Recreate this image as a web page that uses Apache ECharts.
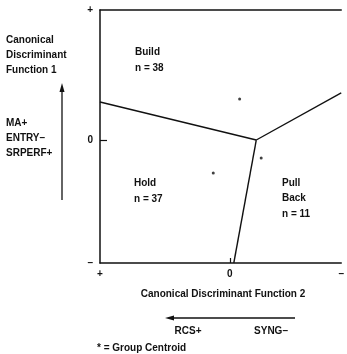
<!DOCTYPE html>
<html><head><meta charset="utf-8">
<script src="https://cdn.jsdelivr.net/npm/echarts@6/dist/echarts.min.js"></script>
<style>html,body{margin:0;padding:0;background:#fff}#c{width:347px;height:354px}</style>
</head><body><div id="c"></div>
<script>
// Axis extents (data units: x positive to the left, as in the reference)
const xRange = [-0.857, 1];
const yRange = [-0.946, 1];
const xTickValues = [1, 0, -0.857];
const xTickLabels = ['+', '0', '\u2013'];
const yTickValues = [1, 0, -0.946];
const yTickLabels = ['+', '0', '\u2013'];
// Territorial boundaries (two points each)
const boundaryBuildHold = [[1, 0.292], [-0.203, 0]];
const boundaryBuildPull = [[-0.203, 0], [-0.857, 0.362]];
const boundaryHoldPull = [[-0.203, 0], [-0.030, -0.946]];
// Group centroids
const centroidNames = ['Build', 'Hold', 'Pull Back'];
const centroids = [[-0.075, 0.315], [0.128, -0.254], [-0.241, -0.138]];

const chart = echarts.init(document.getElementById('c'));
const ink = '#111';
const font = 'Liberation Sans, Arial, sans-serif';
const txt = (x, y, t, align) => ({type:'text', left:null, x:x, y:y, style:{text:t, fill:ink, font:'bold 10px ' + font, textAlign:align||'left', textVerticalAlign:'middle'}});
const lineSeries = d => ({type:'line', data:d, symbol:'none', lineStyle:{color:ink, width:1.4}, silent:true, z:3});

chart.setOption({
  animation:false,
  grid:{left:100, top:10, right:0, bottom:91},
  xAxis:[{
    type:'value', inverse:true, min:xRange[0], max:xRange[1], position:'bottom',
    splitLine:{show:false},
    axisLine:{show:true, onZero:false, lineStyle:{color:ink, width:1.5}},
    axisTick:{show:true, inside:true, length:5, customValues:[0], lineStyle:{color:ink, width:1.2}},
    axisLabel:{show:true, customValues:xTickValues, margin:6, color:ink, fontFamily:font, fontWeight:'bold', fontSize:10,
      formatter:v => xTickLabels[xTickValues.indexOf(v)]}
  },{
    type:'value', inverse:true, min:xRange[0], max:xRange[1], position:'top',
    splitLine:{show:false}, axisTick:{show:false}, axisLabel:{show:false},
    axisLine:{show:true, onZero:false, lineStyle:{color:ink, width:1.5}}
  }],
  yAxis:{
    type:'value', min:yRange[0], max:yRange[1],
    splitLine:{show:false},
    axisLine:{show:true, onZero:false, lineStyle:{color:ink, width:1.5}},
    axisTick:{show:true, inside:true, length:7, customValues:[0], lineStyle:{color:ink, width:1.2}},
    axisLabel:{show:true, customValues:yTickValues, margin:7, color:ink, fontFamily:font, fontWeight:'bold', fontSize:10,
      formatter:v => yTickLabels[yTickValues.indexOf(v)]}
  },
  series:[
    lineSeries(boundaryBuildHold),
    lineSeries(boundaryBuildPull),
    lineSeries(boundaryHoldPull),
    {type:'scatter', data:centroids.map((c,i)=>({name:centroidNames[i], value:c})), symbol:'circle', symbolSize:3,
     itemStyle:{color:ink}, z:4}
  ],
  graphic:[
    txt(6, 40, 'Canonical'), txt(6, 55, 'Discriminant'), txt(6, 70, 'Function 1'),
    txt(6, 123, 'MA+'), txt(6, 138, 'ENTRY\u2013'), txt(6, 153, 'SRPERF+'),
    {type:'line', shape:{x1:62, y1:90, x2:62, y2:200}, style:{stroke:ink, lineWidth:1.3}},
    {type:'polygon', shape:{points:[[62,83],[59.5,92],[64.5,92]]}, style:{fill:ink}},
    txt(135, 52, 'Build'), txt(135, 68, 'n = 38'),
    txt(134, 183, 'Hold'), txt(134, 199, 'n = 37'),
    txt(282, 183, 'Pull'), txt(282, 198, 'Back'), txt(282, 214, 'n = 11'),
    txt(223, 294, 'Canonical Discriminant Function 2', 'center'),
    {type:'line', shape:{x1:172, y1:318, x2:295, y2:318}, style:{stroke:ink, lineWidth:1.3}},
    {type:'polygon', shape:{points:[[165,318],[174,315.5],[174,320.5]]}, style:{fill:ink}},
    txt(188, 331, 'RCS+', 'center'), txt(271, 331, 'SYNG\u2013', 'center'),
    txt(97, 348, '* = Group Centroid')
  ]
});
</script></body></html>
